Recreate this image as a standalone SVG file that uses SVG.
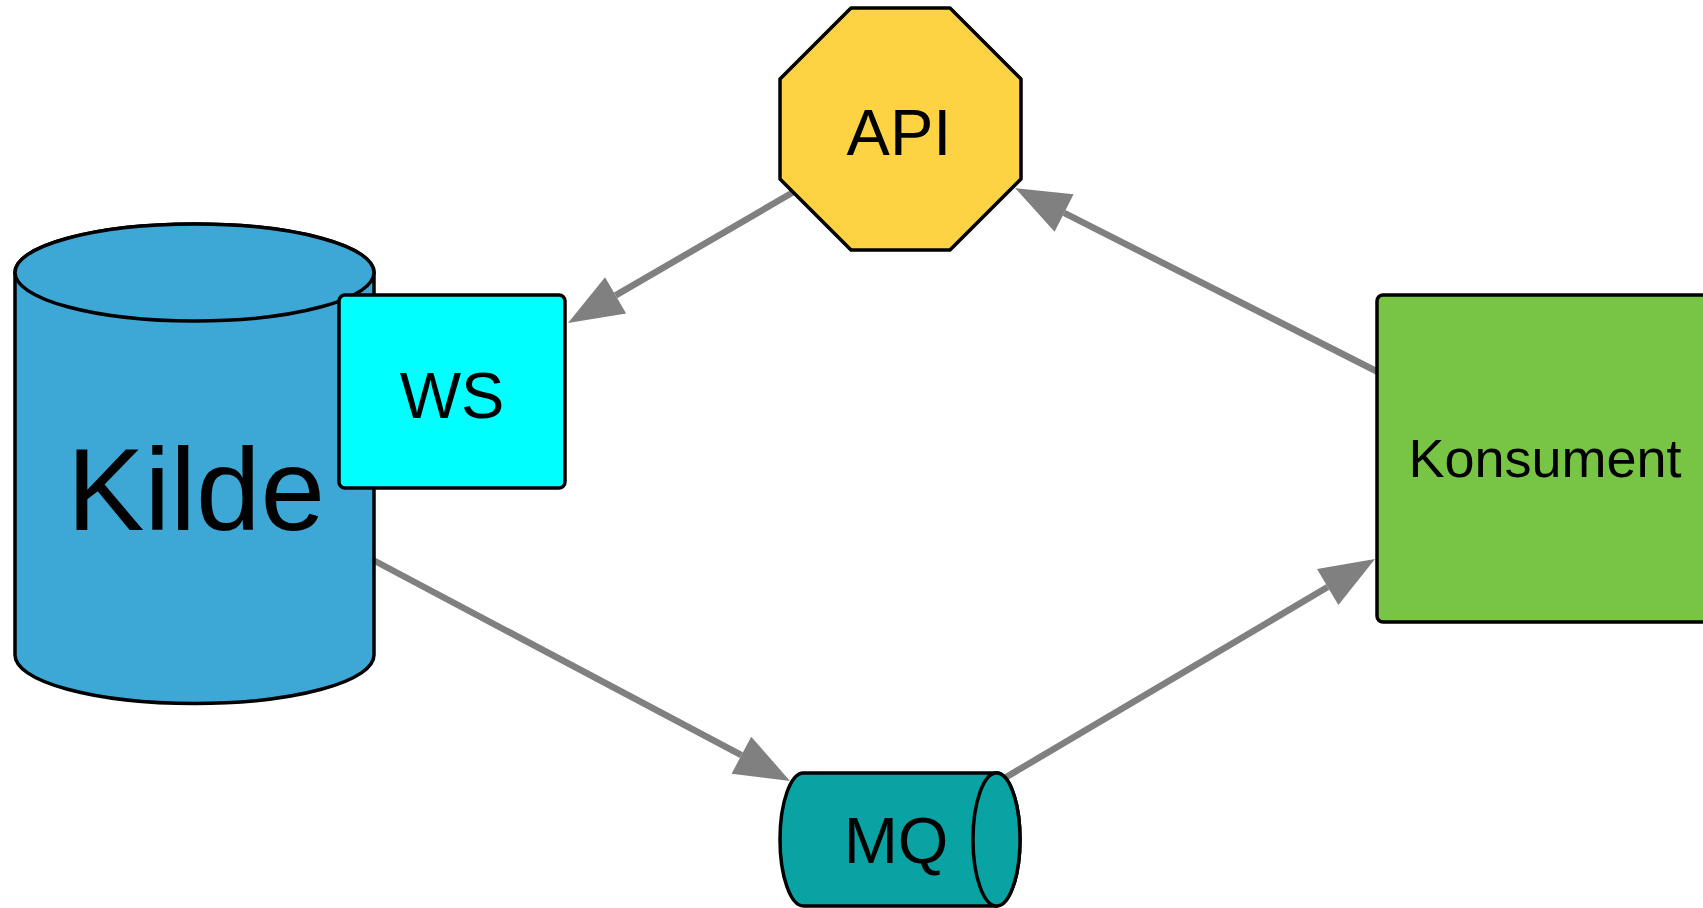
<svg xmlns="http://www.w3.org/2000/svg" width="1703" height="908" viewBox="0 0 1703 908">
  <style>
    .shape { stroke: #000; stroke-width: 3.5; stroke-linejoin: round; }
    .lbl { font-family: "Liberation Sans", Arial, sans-serif; fill: #000; text-anchor: middle; }
    .conn { stroke: #808080; stroke-width: 6.5; fill: none; marker-end: url(#arrow); }
  </style>
  <defs>
    <marker id="arrow" markerUnits="userSpaceOnUse" markerWidth="58" markerHeight="44" refX="0" refY="21" orient="auto" overflow="visible">
      <path d="M0,0 L55,21 L0,42 Z" fill="#808080"/>
    </marker>
  </defs>
  <rect width="1703" height="908" fill="#fff"/>

  <g id="connectors">
    <line class="conn" x1="797" y1="190" x2="615.6" y2="295.4"/>
    <line class="conn" x1="1380" y1="373" x2="1064.1" y2="212.9"/>
    <line class="conn" x1="373" y1="560" x2="741.4" y2="755.2"/>
    <line class="conn" x1="1003" y1="779" x2="1327.7" y2="587"/>
  </g>

  <g id="kilde">
    <path class="shape" fill="#3DA7D5" d="M15,272.5 L15,655 A179.5,48.5 0 0 0 374,655 L374,272.5 A179.5,48.5 0 0 0 15,272.5 Z"/>
    <ellipse class="shape" fill="#3DA7D5" cx="194.5" cy="272.5" rx="179.5" ry="48.5"/>
    <text class="lbl" x="196" y="530" font-size="116">Kilde</text>
  </g>

  <g id="ws">
    <rect class="shape" fill="#00FFFF" x="339" y="295" width="226" height="193" rx="6"/>
    <text class="lbl" x="452" y="418" font-size="65">WS</text>
  </g>

  <g id="api">
    <polygon class="shape" fill="#FDD343" points="851,8 950,8 1021,79 1021,179 950,250 851,250 780,179 780,79"/>
    <text class="lbl" x="899" y="155" font-size="65">API</text>
  </g>

  <g id="mq">
    <path class="shape" fill="#09A3A3" d="M803.5,773 L996.5,773 A23.5,66.5 0 0 1 996.5,906 L803.5,906 A23.5,66.5 0 0 1 803.5,773 Z"/>
    <ellipse class="shape" fill="#09A3A3" cx="996.5" cy="839.5" rx="23.5" ry="66.5"/>
    <text class="lbl" x="896" y="863" font-size="65">MQ</text>
  </g>

  <g id="konsument">
    <rect class="shape" fill="#78C445" x="1377" y="295" width="345" height="327" rx="6"/>
    <text class="lbl" x="1545" y="477" font-size="54">Konsument</text>
  </g>
</svg>
